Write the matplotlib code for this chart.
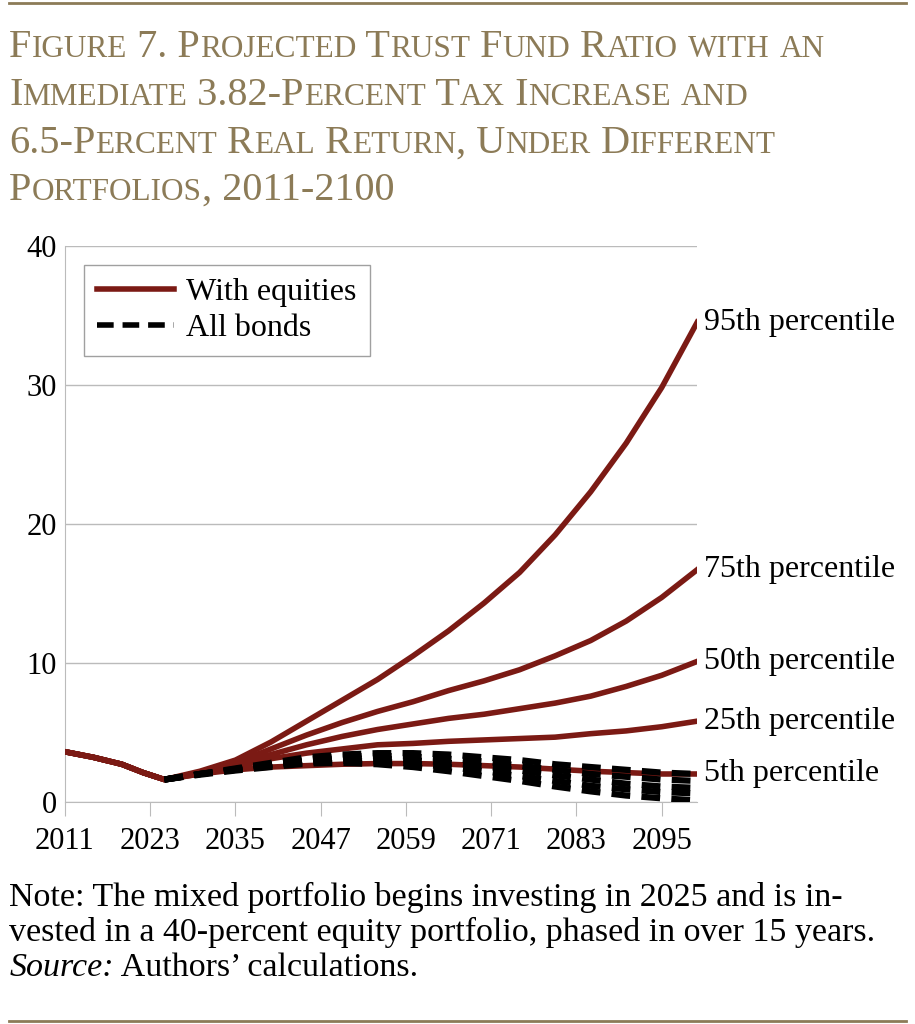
import matplotlib
matplotlib.use("Agg")
import matplotlib.pyplot as plt
from matplotlib.lines import Line2D

years = [2011,2015,2019,2022,2025,2030,2035,2040,2045,2050,2055,2060,2065,2070,2075,2080,2085,2090,2095,2100]
common = [3.6,3.2,2.7,2.1,1.6]
eq = {
 "95th percentile": [2.2,3.0,4.3,5.8,7.3,8.8,10.5,12.3,14.3,16.5,19.2,22.3,25.8,29.8,34.5],
 "75th percentile": [2.1,2.8,3.8,4.8,5.7,6.5,7.2,8.0,8.7,9.5,10.5,11.6,13.0,14.7,16.7],
 "50th percentile": [2.1,2.7,3.4,4.1,4.7,5.2,5.6,6.0,6.3,6.7,7.1,7.6,8.3,9.1,10.1],
 "25th percentile": [2.0,2.5,3.1,3.5,3.8,4.1,4.2,4.35,4.45,4.55,4.65,4.9,5.1,5.4,5.8],
 "5th percentile":  [2.0,2.3,2.5,2.6,2.7,2.75,2.75,2.7,2.6,2.5,2.35,2.2,2.1,2.0,2.0],
}
bonds = [
 [2.0,2.4,2.8,3.2,3.4,3.5,3.5,3.4,3.2,3.0,2.7,2.5,2.3,2.1,2.0],
 [2.0,2.35,2.7,3.05,3.25,3.3,3.25,3.1,2.9,2.6,2.3,2.0,1.8,1.6,1.5],
 [2.0,2.3,2.65,2.95,3.1,3.1,3.0,2.8,2.55,2.25,1.9,1.6,1.3,1.1,1.0],
 [2.0,2.3,2.6,2.85,2.95,2.9,2.75,2.5,2.2,1.85,1.5,1.15,0.9,0.7,0.6],
 [1.95,2.25,2.5,2.75,2.8,2.7,2.5,2.2,1.85,1.5,1.1,0.75,0.45,0.25,0.1],
]
xticks = [2011,2023,2035,2047,2059,2071,2083,2095]

plt.rcParams['font.family'] = ['Liberation Serif', 'DejaVu Serif']
RED = '#7B1A14'
TAN = '#8C7B57'

fig = plt.figure(figsize=(9.15, 10.24), dpi=100)
ax = fig.add_axes([0.071, 0.217, 0.691, 0.543])

for lab, vals in eq.items():
    ax.plot(years, common + vals, color=RED, lw=4, zorder=3, solid_joinstyle='round')
    ax.text(2101, vals[-1], lab, fontsize=23, va='center', ha='left', clip_on=False)
for vals in bonds:
    ax.plot(years[4:], [common[-1]] + vals, color='black', lw=4.5, ls=(0, (3, 1.8)), zorder=4)
ax.plot(years[:5], common, color='black', lw=4, ls=(0, (3, 1.8)), zorder=2)
ax.plot(years[:5], common, color=RED, lw=3, zorder=3)

ax.set_xlim(2011, 2100)
ax.set_ylim(0, 40)
ax.set_yticks([0,10,20,30,40])
ax.set_xticks(xticks)
ax.tick_params(labelsize=22, length=0, pad=6)
ax.tick_params(axis='x', length=10, direction='out', color='#BBBBBB', pad=8)
ax.grid(axis='y', color='#BBBBBB', lw=1)
for s in ['top', 'right']:
    ax.spines[s].set_visible(False)
ax.spines['left'].set_color('#BBBBBB')
ax.spines['bottom'].set_color('#BBBBBB')

handles = [Line2D([], [], color=RED, lw=4), Line2D([], [], color='black', lw=4, ls=(0, (3, 1.6)))]
leg = ax.legend(handles, ['With equities', 'All bonds'], loc='upper left', fontsize=23,
                frameon=True, fancybox=False, edgecolor='#888888', handlelength=2.4,
                handletextpad=0.4, borderaxespad=0.6, labelspacing=0.2)
leg.get_frame().set_linewidth(1)

fig.add_artist(Line2D([0.01, 0.99], [0.997, 0.997], color=TAN, lw=2))
fig.add_artist(Line2D([0.01, 0.99], [0.003, 0.003], color=TAN, lw=2))
lines = ["Figure 7. Projected Trust Fund Ratio with an",
         "Immediate 3.82-Percent Tax Increase and",
         "6.5-Percent Real Return, Under Different",
         "Portfolios, 2011-2100"]
renderer = fig.canvas.get_renderer()
big, small = 29, 22.5
ys = [0.944, 0.897, 0.851, 0.805]
for line, y in zip(lines, ys):
    x = 0.01
    runs = []
    for ch in line:
        isl = ch.islower()
        if runs and runs[-1][1] == isl:
            runs[-1][0] += ch
        else:
            runs.append([ch, isl])
    for txt, isl in runs:
        t = fig.text(x, y, txt.upper() if isl else txt, fontsize=small if isl else big,
                     color=TAN, ha='left', va='baseline')
        bb = t.get_window_extent(renderer)
        x += bb.width / fig.bbox.width

fs = 24.5
fig.text(0.01, 0.115, "Note: The mixed portfolio begins investing in 2025 and is in-", fontsize=fs)
fig.text(0.01, 0.081, "vested in a 40-percent equity portfolio, phased in over 15 years.", fontsize=fs)
t = fig.text(0.01, 0.047, "Source:", fontsize=fs, style='italic')
w = t.get_window_extent(renderer).width / fig.bbox.width
fig.text(0.01 + w, 0.047, " Authors\u2019 calculations.", fontsize=fs)

fig.savefig("out.png", dpi=100)
